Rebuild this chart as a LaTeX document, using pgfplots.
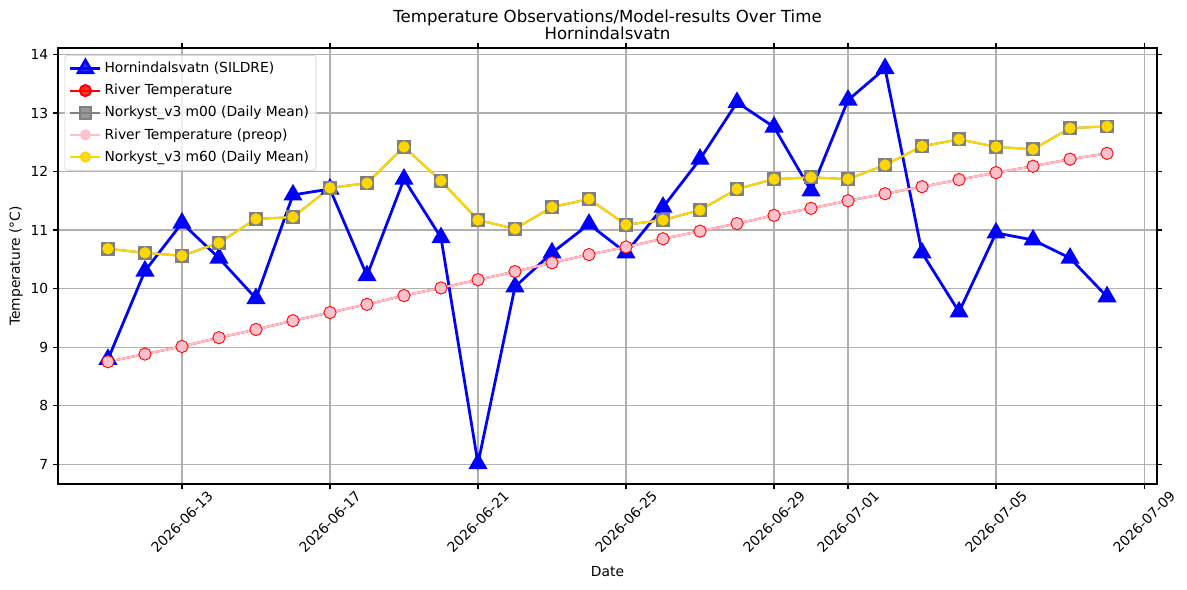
\documentclass[border=0pt]{standalone}
\usepackage{pgfplots}
\pgfplotsset{compat=1.18}
\usepackage{fontspec}
\setmainfont{DejaVu Sans}
\definecolor{mplgrid}{RGB}{176,176,176}
\definecolor{mplpink}{RGB}{255,192,203}
\definecolor{mplgold}{RGB}{255,215,0}
\definecolor{mplgrey}{RGB}{128,128,128}
\begin{document}
\begin{tikzpicture}
\useasboundingbox (-0.58in,-1.06in) rectangle (11.29in,4.84in);
\begin{axis}[
  scale only axis,
  width=10.99in, height=4.36in,
  xmin=-1.35, xmax=28.35,
  ymin=6.66, ymax=14.11,
  xtick={2,6,10,14,18,20,24,28},
  xticklabels={2026-06-13,2026-06-17,2026-06-21,2026-06-25,2026-06-29,2026-07-01,2026-07-05,2026-07-09},
  ytick={7,8,9,10,11,12,13,14},
  /pgf/number format/assume math mode=true,
  tick label style={font=\fontsize{10}{12}\selectfont},
  xticklabel style={yshift=-0.33in, rotate=45, anchor=center},
  tick align=outside,
  major tick length=0.049in,
  tick style={black, line width=0.8pt},
  axis line style={line width=0.8pt},
  grid=major,
  major grid style={mplgrid, line width=0.8pt},
  xlabel={Date},
  ylabel={Temperature (°C)},
  label style={font=\fontsize{10}{12}\selectfont},
  xlabel style={at={(axis description cs:0.5,-0.2018)}, anchor=center},
  ylabel style={at={(axis description cs:-0.0382,0.5)}, anchor=center},
  title={Temperature Observations/Model-results Over Time\\Hornindalsvatn},
  title style={at={(axis description cs:0.5,1)}, anchor=south, inner sep=0pt, yshift=0in,
    align=center, font=\fontsize{12}{12.3}\selectfont},
  legend cell align=left,
  legend style={at={(0.006,0.984)}, anchor=north west, font=\fontsize{10}{12}\selectfont,
    draw=black!20, rounded corners=2pt, fill=white, fill opacity=0.8, text opacity=1,
    row sep=2.9pt, inner sep=3pt},
  legend image code/.code={\draw[mark repeat=2,mark phase=2] plot coordinates {(0in,0in) (0.15in,0in) (0.3in,0in)};},
]
\addplot[blue, line width=2pt, mark=triangle*, mark size=6pt, mark options={solid}] coordinates {
(0,8.79) (1,10.30) (2,11.12) (3,10.52) (4,9.83) (5,11.60) (6,11.70) (7,10.22) (8,11.87) (9,10.87)
(10,7.01) (11,10.03) (12,10.61) (13,11.10) (14,10.61) (15,11.39) (16,12.21) (17,13.18) (18,12.76) (19,11.67)
(20,13.22) (21,13.76) (22,10.61) (23,9.60) (24,10.95) (25,10.83) (26,10.52) (27,9.86)};
\addlegendentry{Hornindalsvatn (SILDRE)}
\addplot[red, line width=1.5pt, mark=*, mark size=4pt] coordinates {
(0,8.75) (1,8.88) (2,9.01) (3,9.16) (4,9.30) (5,9.45) (6,9.59) (7,9.73) (8,9.88) (9,10.01)
(10,10.15) (11,10.29) (12,10.44) (13,10.58) (14,10.71) (15,10.85) (16,10.98) (17,11.11) (18,11.25) (19,11.37)
(20,11.50) (21,11.62) (22,11.74) (23,11.86) (24,11.98) (25,12.09) (26,12.21) (27,12.31)};
\addlegendentry{River Temperature}
\addplot[mplgrey, line width=1.5pt, mark=square*, mark size=4.2pt] coordinates {
(0,10.68) (1,10.61) (2,10.56) (3,10.78) (4,11.19) (5,11.22) (6,11.72) (7,11.80) (8,12.42) (9,11.84)
(10,11.17) (11,11.02) (12,11.39) (13,11.53) (14,11.09) (15,11.17) (16,11.34) (17,11.70) (18,11.87) (19,11.90)
(20,11.87) (21,12.11) (22,12.43) (23,12.55) (24,12.42) (25,12.38) (26,12.74) (27,12.77)};
\addlegendentry{Norkyst\_v3 m00 (Daily Mean)}
\addplot[mplpink, line width=1.5pt, mark=*, mark size=3.2pt] coordinates {
(0,8.75) (1,8.88) (2,9.01) (3,9.16) (4,9.30) (5,9.45) (6,9.59) (7,9.73) (8,9.88) (9,10.01)
(10,10.15) (11,10.29) (12,10.44) (13,10.58) (14,10.71) (15,10.85) (16,10.98) (17,11.11) (18,11.25) (19,11.37)
(20,11.50) (21,11.62) (22,11.74) (23,11.86) (24,11.98) (25,12.09) (26,12.21) (27,12.31)};
\addlegendentry{River Temperature (preop)}
\addplot[mplgold, line width=1.5pt, mark=*, mark size=3.3pt] coordinates {
(0,10.68) (1,10.61) (2,10.56) (3,10.78) (4,11.19) (5,11.22) (6,11.72) (7,11.80) (8,12.42) (9,11.84)
(10,11.17) (11,11.02) (12,11.39) (13,11.53) (14,11.09) (15,11.17) (16,11.34) (17,11.70) (18,11.87) (19,11.90)
(20,11.87) (21,12.11) (22,12.43) (23,12.55) (24,12.42) (25,12.38) (26,12.74) (27,12.77)};
\addlegendentry{Norkyst\_v3 m60 (Daily Mean)}
\end{axis}
\end{tikzpicture}
\end{document}
